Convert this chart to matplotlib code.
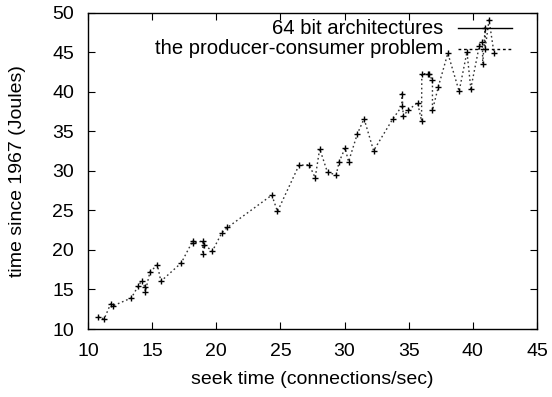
import matplotlib
matplotlib.use("Agg")
import matplotlib.pyplot as plt

plt.rcParams['font.family'] = ['Liberation Sans', 'DejaVu Sans']

seek_time = [10.77, 11.26, 11.76, 11.98, 13.38, 13.93, 14.20, 14.42, 14.47, 14.83,
             15.41, 15.68, 17.27, 18.18, 18.21, 18.95, 18.95, 19.06, 19.69, 20.43,
             20.87, 24.33, 24.77, 26.44, 27.24, 27.71, 28.06, 28.67, 29.35, 29.57,
             30.04, 30.31, 31.00, 31.52, 32.26, 33.74, 34.46, 34.49, 34.57, 34.95,
             35.69, 36.00, 36.02, 36.52, 36.57, 36.85, 36.85, 37.31, 38.05, 38.93,
             39.54, 39.84, 40.50, 40.74, 40.77, 40.96, 40.96, 41.26, 41.65]
joules = [11.56, 11.27, 13.16, 12.95, 13.92, 15.49, 16.12, 15.32, 14.73, 17.22,
          18.10, 16.03, 18.35, 21.18, 20.84, 21.14, 19.49, 20.67, 19.83, 22.15,
          22.83, 26.92, 24.85, 30.68, 30.76, 29.11, 32.78, 29.79, 29.49, 31.10,
          32.87, 31.14, 34.68, 36.58, 32.53, 36.50, 38.14, 39.75, 36.92, 37.64,
          38.61, 36.29, 42.28, 42.24, 42.24, 41.43, 37.64, 40.63, 44.85, 40.04,
          45.02, 40.38, 45.78, 46.29, 43.54, 48.10, 45.44, 49.07, 44.85]

series_labels = ["64 bit architectures", "the producer-consumer problem"]
x_ticks = [10, 15, 20, 25, 30, 35, 40, 45]
y_ticks = [10, 15, 20, 25, 30, 35, 40, 45, 50]

fig = plt.figure(figsize=(5.52, 3.97), dpi=100)
ax = fig.add_axes([88 / 552, 68 / 397, 449 / 552, 316.5 / 397])

# dotted connecting line (series 2)
ax.plot(seek_time, joules, linestyle=(0, (1.2, 2.0)), color='#333333', lw=1.0)
# points (series 1)
ax.plot(seek_time, joules, linestyle='none', marker='+', color='black',
        markersize=5, markeredgewidth=1.0)

ax.set_xlim(10, 45)
ax.set_ylim(10, 50)
ax.set_xticks(x_ticks)
ax.set_yticks(y_ticks)
ax.tick_params(direction='in', length=5, width=0.8, top=True, right=True,
               labelsize=14)
ax.tick_params(axis='y', pad=10)
ax.tick_params(axis='x', pad=10)
for s in ax.spines.values():
    s.set_linewidth(1.0)

ax.set_xlabel("seek time (connections/sec)", fontsize=14)
ax.set_ylabel("time since 1967 (Joules)", fontsize=14)
ax.xaxis.set_label_coords(0.5, -0.161)
ax.yaxis.set_label_coords(-0.157, 0.5)
ax.xaxis.label.set_va('center')
ax.yaxis.label.set_va('center')

# gnuplot-style key
ax.text(0.791, 0.951, series_labels[0], transform=ax.transAxes, ha='right',
        va='center', fontsize=14.6)
ax.plot([0.824, 0.944], [0.951, 0.951], transform=ax.transAxes, color='black',
        lw=1.0, clip_on=False)
ax.text(0.791, 0.886, series_labels[1], transform=ax.transAxes, ha='right',
        va='center', fontsize=14.6)
ax.plot([0.824, 0.944], [0.886, 0.886], transform=ax.transAxes, color='black',
        lw=1.0, linestyle=(0, (2, 2)), clip_on=False)

fig.savefig("out.png", dpi=100)
